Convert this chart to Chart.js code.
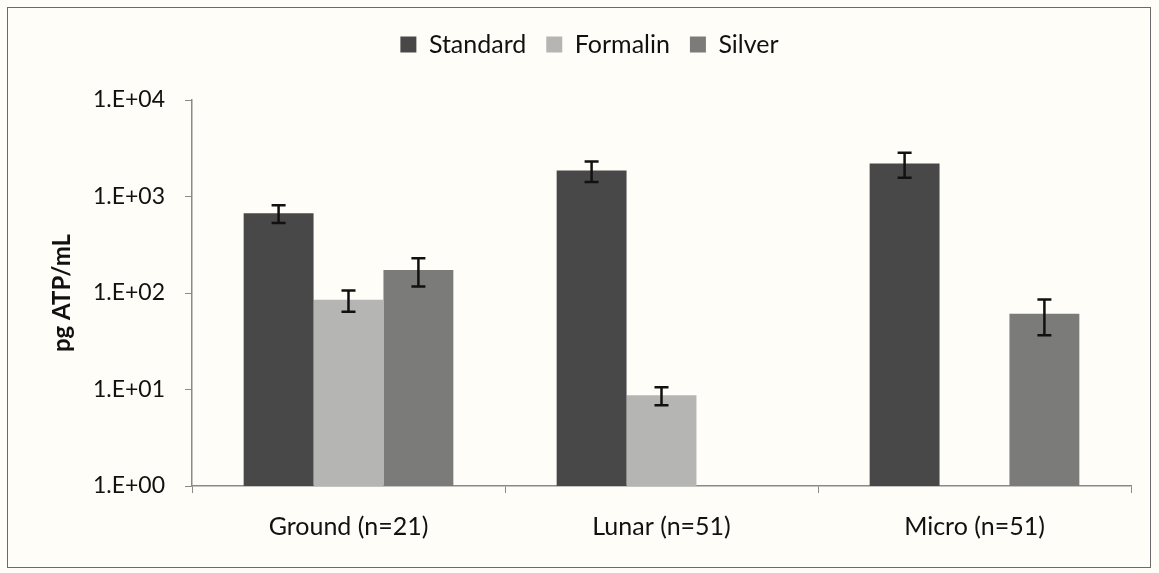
<!DOCTYPE html>
<html>
<head>
<meta charset="utf-8">
<script src="https://cdn.jsdelivr.net/npm/chart.js@4"></script>
<style>
  html, body { margin: 0; padding: 0; background: #fefdf8; }
  #wrap { position: relative; width: 1159px; height: 573px; }
  #frame { position: absolute; left: 7px; top: 7px; width: 1144px; height: 561px; border: 1px solid #6a6a6a; box-sizing: border-box; }
  canvas { position: absolute; left: 0; top: 0; }
</style>
</head>
<body>
<div id="wrap">
  <div id="frame"></div>
  <canvas id="myChart" width="1159" height="573"></canvas>
</div>
<script>
const categories = ['Ground (n=21)', 'Lunar (n=51)', 'Micro (n=51)'];
const standard = [670, 1860, 2200];
const standardErr = [140, 450, 635];
const formalin = [85, 8.7, null];
const formalinErr = [21, 1.85, null];
const silver = [173, null, 61];
const silverErr = [56, null, 24.5];
const yTicks = [1, 10, 100, 1000, 10000];
const yTickLabels = ['1.E+00', '1.E+01', '1.E+02', '1.E+03', '1.E+04'];

const errors = [standardErr, formalinErr, silverErr];

// error bars drawn from the y scale
const errorBars = {
    id: 'errorBars',
    afterDatasetsDraw(chart) {
        const ctx = chart.ctx;
        const y = chart.scales.y;
        ctx.save();
        ctx.strokeStyle = '#111';
        ctx.lineWidth = 2.5;
        chart.data.datasets.forEach((ds, i) => {
            const meta = chart.getDatasetMeta(i);
            meta.data.forEach((bar, j) => {
                const v = ds.data[j];
                const e = errors[i][j];
                if (v == null || e == null) return;
                const top = y.getPixelForValue(v + e);
                const bottom = y.getPixelForValue(v - e);
                ctx.beginPath();
                ctx.moveTo(bar.x, top);
                ctx.lineTo(bar.x, bottom);
                ctx.moveTo(bar.x - 7, top);
                ctx.lineTo(bar.x + 7, top);
                ctx.moveTo(bar.x - 7, bottom);
                ctx.lineTo(bar.x + 7, bottom);
                ctx.stroke();
            });
        });
        ctx.restore();
    }
};

// extra room under the legend
const legendGap = {
    id: 'legendGap',
    beforeLayout(chart) {
        const lg = chart.legend;
        if (lg && !lg._gapped) {
            const fit = lg.fit;
            lg.fit = function() {
                fit.call(this);
                this.height += 33;
            };
            lg._gapped = true;
        }
    }
};

Chart.defaults.font.family = 'Lato, "Open Sans", sans-serif';
Chart.defaults.color = '#111';

new Chart(document.getElementById('myChart'), {
    type: 'bar',
    data: {
        labels: categories,
        datasets: [
            { label: 'Standard', data: standard, backgroundColor: '#484848' },
            { label: 'Formalin', data: formalin, backgroundColor: '#b5b5b3' },
            { label: 'Silver', data: silver, backgroundColor: '#7b7b7a' }
        ]
    },
    options: {
        responsive: false,
        animation: false,
        layout: { padding: { left: 48, right: 28, top: 12, bottom: 0 } },
        datasets: { bar: { categoryPercentage: 0.67, barPercentage: 1.0 } },
        scales: {
            x: {
                grid: { display: true, drawOnChartArea: false, tickLength: 7, color: '#8a8a8a' },
                border: { color: '#8a8a8a', width: 1.5 },
                ticks: { padding: 19, font: { size: 25 } },
                afterFit: s => { s.height = 87; }
            },
            y: {
                type: 'logarithmic',
                min: 1,
                max: 10000,
                afterBuildTicks: s => { s.ticks = yTicks.map(v => ({ value: v })); },
                grid: { display: true, drawOnChartArea: false, tickLength: 7, color: '#8a8a8a' },
                border: { color: '#8a8a8a', width: 1.5 },
                ticks: {
                    padding: 20,
                    font: { size: 23 },
                    callback: v => yTickLabels[yTicks.indexOf(v)]
                },
                title: { display: true, text: 'pg ATP/mL', font: { size: 24, weight: 'bold' }, padding: 0 },
                afterFit: s => { s.width = 144; }
            }
        },
        plugins: {
            legend: {
                position: 'top',
                labels: { boxWidth: 16, boxHeight: 16, padding: 20, font: { size: 25 } }
            },
            tooltip: { enabled: false }
        }
    },
    plugins: [errorBars, legendGap]
});
</script>
</body>
</html>
